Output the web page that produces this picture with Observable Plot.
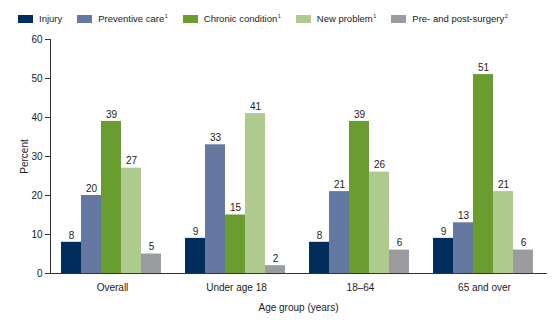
<!DOCTYPE html>
<html>
<head>
<meta charset="utf-8">
<script src="https://cdn.jsdelivr.net/npm/d3@7"></script>
<script src="https://cdn.jsdelivr.net/npm/@observablehq/plot@0.6"></script>
<style>
  body { margin: 0; background: #fff; font-family: "Liberation Sans", Arial, sans-serif; }
  #legend { height: 30px; display: flex; align-items: center; padding-left: 18px; padding-top: 7px; box-sizing: border-box; font-size: 9.5px; color: #222; }
  .item { display: flex; align-items: center; margin-right: 15px; white-space: nowrap; }
  .sw { width: 15px; height: 8px; margin-right: 6px; }
  sup { font-size: 5.5px; vertical-align: 4px; margin-left: 0.5px; line-height: 0; }
</style>
</head>
<body>
<div id="legend"></div>
<div id="chart"></div>
<script>
const groups = ["Overall", "Under age 18", "18–64", "65 and over"];
const series = ["Injury", "Preventive care", "Chronic condition", "New problem", "Pre- and post-surgery"];
const notes = ["", "1", "1", "1", "2"];
const colors = ["#002d5b", "#6478a1", "#6b9c30", "#afca8d", "#9b9c9f"];
const injury = [8, 9, 8, 9];
const preventive = [20, 33, 21, 13];
const chronic = [39, 15, 39, 51];
const newProblem = [27, 41, 26, 21];
const prePost = [5, 2, 6, 6];
const yTicks = [0, 10, 20, 30, 40, 50, 60];

const values = [injury, preventive, chronic, newProblem, prePost];
const data = [];
groups.forEach((g, gi) => series.forEach((s, si) => data.push({group: g, series: s, value: values[si][gi]})));

const legend = document.getElementById("legend");
series.forEach((s, i) => {
  const it = document.createElement("div");
  it.className = "item";
  it.innerHTML = `<div class="sw" style="background:${colors[i]}"></div><span>${s}${notes[i] ? "<sup>" + notes[i] + "</sup>" : ""}</span>`;
  legend.appendChild(it);
});

const chart = Plot.plot({
  width: 560,
  height: 294,
  marginLeft: 50,
  marginRight: 14,
  marginTop: 9,
  marginBottom: 51,
  style: {fontFamily: "Liberation Sans, Arial, sans-serif", fontSize: "10px", color: "#222", background: "#fff"},
  fx: {domain: groups, padding: 0},
  x: {domain: series, padding: 0, insetLeft: 11, insetRight: 13, axis: null},
  y: {domain: [0, 60]},
  color: {domain: series, range: colors},
  marks: [
    Plot.barY(data, {fx: "group", x: "series", y: "value", fill: "series"}),
    Plot.text(data, {fx: "group", x: "series", y: "value", text: d => String(d.value), dy: -7, fill: "#222", fontSize: 10}),
    Plot.axisY({ticks: yTicks, tickSize: 5, tickPadding: 3, label: "Percent", labelAnchor: "center", labelArrow: "none", labelOffset: 30, stroke: "#333"}),
    Plot.axisFx({anchor: "bottom", tickSize: 0, tickPadding: 10, label: "Age group (years)", labelAnchor: "center", labelArrow: "none", labelOffset: 37}),
    Plot.frame({anchor: "left", facet: "super", stroke: "#333"}),
    Plot.frame({anchor: "bottom", facet: "super", stroke: "#333"})
  ]
});
document.getElementById("chart").appendChild(chart);
</script>
</body>
</html>
